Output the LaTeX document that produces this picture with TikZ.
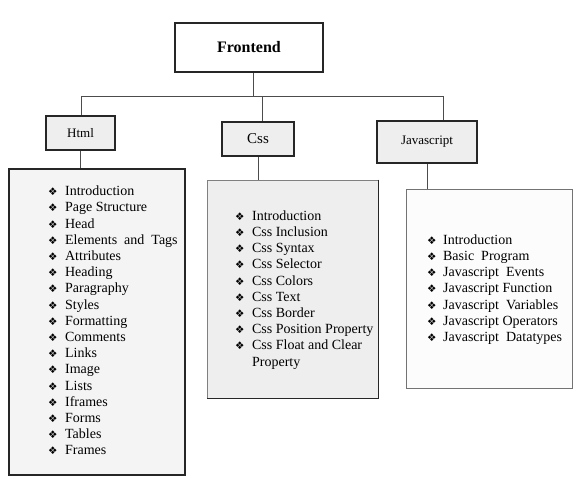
\documentclass[tikz,border=0pt]{standalone}
\usepackage{fontspec}
\setmainfont{Liberation Serif}
\newfontfamily\dingfont{DejaVu Sans}
\usetikzlibrary{positioning}

\definecolor{headgray}{HTML}{EEEEEE}
\definecolor{htmlgray}{HTML}{F4F4F4}
\definecolor{jswhite}{HTML}{FCFCFC}

\newcommand\dia{{\dingfont\fontsize{10.5}{10.5}\selectfont ❖}}
\newcommand\listfont{\fontsize{14}{16.2}\selectfont}

\tikzset{
  head/.style={draw=black!85, fill=headgray, inner sep=0pt},
  listbox/.style={draw=black!85, inner sep=0pt},
  items/.style={inner sep=0pt, anchor=west, font=\listfont},
  wire/.style={draw=black!70, line width=1pt}
}

\begin{document}
\begin{tikzpicture}[x=1pt,y=-1pt]
\useasboundingbox (0,0) rectangle (585,500);

\node (Frontend) [head, fill=white, line width=2pt, minimum width=148pt, minimum height=49pt,
  font=\bfseries\fontsize{16}{18}\selectfont] at (249,47.5) {Frontend};

\node (Html) [head, line width=1.2pt, minimum width=69pt, minimum height=34pt,
  font=\fontsize{13}{15}\selectfont] at (80.5,133) {Html};
\node (Css) [head, line width=1.8pt, minimum width=72pt, minimum height=34pt,
  font=\fontsize{15}{17}\selectfont] at (258,139) {Css};
\node (Javascript) [head, line width=1.8pt, minimum width=100pt, minimum height=42pt,
  font=\fontsize{13}{15}\selectfont] at (427,142) {Javascript};

\node (HtmlList) [listbox, fill=htmlgray, line width=1.5pt, minimum width=176pt, minimum height=306pt] at (97,322) {};
\node (CssList) [listbox, draw=black!50, fill=headgray, line width=0.8pt, minimum width=171pt, minimum height=218pt] at (292.5,289) {};
\node (JsList) [listbox, draw=black!55, fill=jswhite, line width=1pt, minimum width=166pt, minimum height=199pt] at (489,288.5) {};

% darker shadow edge of the Css box
\draw [black!85, line width=1.3pt] (CssList.north east) -- (CssList.south east) -- (CssList.south west);

\node (HtmlItems) [items] at (48,322) {%
\begin{tabular}{@{}l@{\hspace{7.5pt}}l@{}}
\dia & Introduction\\
\dia & Page Structure\\
\dia & Head\\
\dia & Elements\enspace and\enspace Tags\\
\dia & Attributes\\
\dia & Heading\\
\dia & Paragraphy\\
\dia & Styles\\
\dia & Formatting\\
\dia & Comments\\
\dia & Links\\
\dia & Image\\
\dia & Lists\\
\dia & Iframes\\
\dia & Forms\\
\dia & Tables\\
\dia & Frames
\end{tabular}};

\node (CssItems) [items] at (235,290) {%
\begin{tabular}{@{}l@{\hspace{7.5pt}}l@{}}
\dia & Introduction\\
\dia & Css Inclusion\\
\dia & Css Syntax\\
\dia & Css Selector\\
\dia & Css Colors\\
\dia & Css Text\\
\dia & Css Border\\
\dia & Css Position Property\\
\dia & Css Float and Clear\\
     & Property
\end{tabular}};

\node (JsItems) [items] at (427,289.7) {%
\begin{tabular}{@{}l@{\hspace{6.5pt}}l@{}}
\dia & Introduction\\
\dia & Basic\enspace Program\\
\dia & Javascript\enspace Events\\
\dia & Javascript Function\\
\dia & Javascript\enspace Variables\\
\dia & Javascript Operators\\
\dia & Javascript\enspace Datatypes
\end{tabular}};

% tree connectors
\coordinate (barL) at (81,97);
\coordinate (barM) at (253,97);
\coordinate (barC) at (262,97);
\coordinate (barR) at (443,97);

\draw [wire] (barM |- Frontend.south) -- (barM);
\draw [wire] (Html.north -| barL) -- (barL) -- (barR) -- (Javascript.north -| barR);
\draw [wire] (barC) -- (Css.north -| barC);

\draw [wire] (Html.south) -- (Html.south |- HtmlList.north);
\draw [wire] (Css.south) -- (Css.south |- CssList.north);
\draw [wire] (Javascript.south) -- (Javascript.south |- JsList.north);

\end{tikzpicture}
\end{document}
